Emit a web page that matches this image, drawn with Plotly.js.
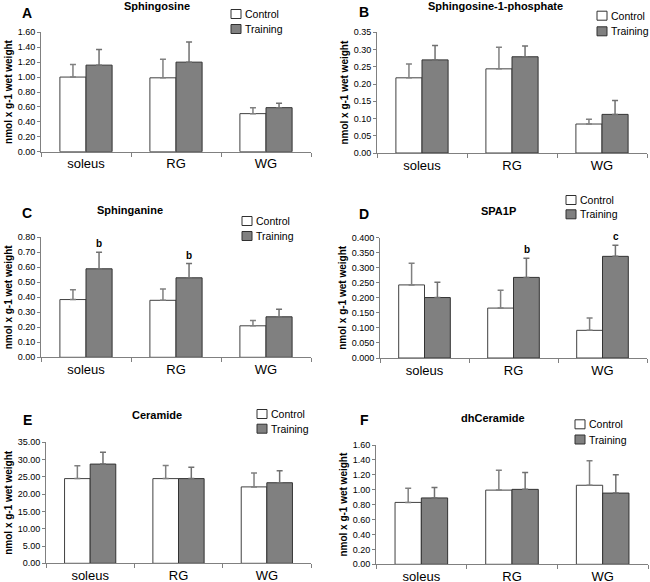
<!DOCTYPE html>
<html>
<head>
<meta charset="utf-8">
<script src="https://cdn.plot.ly/plotly-3.0.1.min.js"></script>
<style>html,body{margin:0;padding:0;background:#fff;}#chart{width:650px;height:582px;}</style>
</head>
<body>
<div id="chart"></div>
<script>
// ---- data ----
const categories = ['soleus', 'RG', 'WG'];
const seriesNames = ['Control', 'Training'];

const panelLetters = ['A', 'B', 'C', 'D', 'E', 'F'];
const panelTitles = ['Sphingosine', 'Sphingosine-1-phosphate', 'Sphinganine', 'SPA1P', 'Ceramide', 'dhCeramide'];

const sphingosineControl = [1.00, 0.99, 0.51];
const sphingosineControlErr = [0.17, 0.25, 0.08];
const sphingosineTraining = [1.16, 1.20, 0.59];
const sphingosineTrainingErr = [0.21, 0.27, 0.06];

const s1pControl = [0.218, 0.244, 0.084];
const s1pControlErr = [0.040, 0.063, 0.014];
const s1pTraining = [0.270, 0.279, 0.112];
const s1pTrainingErr = [0.042, 0.031, 0.040];

const sphinganineControl = [0.385, 0.380, 0.210];
const sphinganineControlErr = [0.065, 0.075, 0.035];
const sphinganineTraining = [0.590, 0.530, 0.270];
const sphinganineTrainingErr = [0.110, 0.095, 0.050];
const sphinganineSig = ['b', 'b', ''];

const spa1pControl = [0.243, 0.166, 0.092];
const spa1pControlErr = [0.072, 0.059, 0.041];
const spa1pTraining = [0.201, 0.268, 0.338];
const spa1pTrainingErr = [0.051, 0.064, 0.037];
const spa1pSig = ['', 'b', 'c'];

const ceramideControl = [24.5, 24.5, 22.1];
const ceramideControlErr = [3.7, 3.8, 4.0];
const ceramideTraining = [28.7, 24.5, 23.3];
const ceramideTrainingErr = [3.4, 3.3, 3.5];

const dhCeramideControl = [0.830, 0.995, 1.060];
const dhCeramideControlErr = [0.190, 0.265, 0.330];
const dhCeramideTraining = [0.890, 1.005, 0.955];
const dhCeramideTrainingErr = [0.140, 0.225, 0.245];

// ---- panel assembly ----
const panels = [
  {ctrl: sphingosineControl, ctrlErr: sphingosineControlErr, trn: sphingosineTraining, trnErr: sphingosineTrainingErr, sig: null,
   yMax: 1.6, dtick: 0.2, fmt: '.2f'},
  {ctrl: s1pControl, ctrlErr: s1pControlErr, trn: s1pTraining, trnErr: s1pTrainingErr, sig: null,
   yMax: 0.35, dtick: 0.05, fmt: '.2f'},
  {ctrl: sphinganineControl, ctrlErr: sphinganineControlErr, trn: sphinganineTraining, trnErr: sphinganineTrainingErr, sig: sphinganineSig,
   yMax: 0.8, dtick: 0.1, fmt: '.2f'},
  {ctrl: spa1pControl, ctrlErr: spa1pControlErr, trn: spa1pTraining, trnErr: spa1pTrainingErr, sig: spa1pSig,
   yMax: 0.4, dtick: 0.05, fmt: '.3f'},
  {ctrl: ceramideControl, ctrlErr: ceramideControlErr, trn: ceramideTraining, trnErr: ceramideTrainingErr, sig: null,
   yMax: 35, dtick: 5, fmt: '.2f'},
  {ctrl: dhCeramideControl, ctrlErr: dhCeramideControlErr, trn: dhCeramideTraining, trnErr: dhCeramideTrainingErr, sig: null,
   yMax: 1.6, dtick: 0.2, fmt: '.2f'}
];

// ---- layout geometry (pixels) ----
const W = 650, H = 582;
const plotBoxes = [ // [left, right, top, bottom]
  [41, 311, 32.3, 151.7],
  [377, 647, 32.3, 153],
  [41, 311, 237.3, 357.3],
  [380, 647, 237.7, 358],
  [46, 311, 442.3, 563.3],
  [376, 648, 445, 564.3]
];
// legend key: [swatch left x, first row centre y, second row centre y]
const legendPos = [[231, 14, 29], [597, 15.7, 31.3], [242, 221, 236], [566, 200, 214.3], [257, 414, 428.7], [575, 424.3, 439.5]];
const titlePos = [[157, 6], [495, 6], [130, 210], [498, 211], [157, 415], [493, 418]];
const letterPos = [[27, 13], [364, 12], [27, 213], [364, 214], [27, 420], [364, 420]];

const FONT = 'Liberation Sans, Arial, sans-serif';
const swatchFill = ['#ffffff', '#808080'];
const swatchLine = ['#303030', '#303030'];
const traces = [];
const layout = {
  width: W, height: H,
  margin: {l: 0, r: 0, t: 0, b: 0},
  paper_bgcolor: '#ffffff', plot_bgcolor: '#ffffff',
  barmode: 'group', bargap: 0.42, bargroupgap: 0,
  font: {family: FONT, color: '#000000'},
  annotations: [], shapes: [],
  showlegend: false
};

panels.forEach((p, i) => {
  const k = i + 1;
  const xa = 'x' + (k === 1 ? '' : k), ya = 'y' + (k === 1 ? '' : k);
  const box = plotBoxes[i];
  traces.push({
    type: 'bar', name: seriesNames[0], x: categories, y: p.ctrl, xaxis: xa, yaxis: ya,
    marker: {color: '#ffffff', line: {color: '#404040', width: 1}},
    error_y: {type: 'data', symmetric: false, array: p.ctrlErr, arrayminus: [0, 0, 0], color: '#808080', thickness: 1.5, width: 3},
    hoverinfo: 'y'
  });
  traces.push({
    type: 'bar', name: seriesNames[1], x: categories, y: p.trn, xaxis: xa, yaxis: ya,
    marker: {color: '#808080', line: {color: '#333333', width: 1}},
    error_y: {type: 'data', symmetric: false, array: p.trnErr, arrayminus: [0, 0, 0], color: '#707070', thickness: 1.5, width: 3},
    hoverinfo: 'y'
  });
  layout['xaxis' + (k === 1 ? '' : k)] = {
    type: 'category', domain: [box[0] / W, box[1] / W], anchor: ya,
    range: [-0.5, 2.5], tickson: 'boundaries', ticks: 'outside', ticklen: 4, tickcolor: '#808080', tickwidth: 1,
    showline: true, linecolor: '#808080', linewidth: 1, showgrid: false, zeroline: false,
    tickfont: {family: FONT, size: 13, color: '#000000'}, fixedrange: true
  };
  layout['yaxis' + (k === 1 ? '' : k)] = {
    domain: [1 - box[3] / H, 1 - box[2] / H], anchor: xa,
    range: [0, p.yMax], dtick: p.dtick, tick0: 0, tickformat: p.fmt,
    ticks: 'outside', ticklen: 3, tickcolor: '#808080', tickwidth: 1,
    showline: true, linecolor: '#808080', linewidth: 1, showgrid: false, zeroline: false,
    tickfont: {family: FONT, size: 9, color: '#000000'},
    title: {text: 'nmol x g-1 wet weight', font: {family: FONT, size: 10, color: '#000000', weight: 'bold'}, standoff: 3},
    fixedrange: true
  };
  // legend key (swatch + label) for this panel
  const lp = legendPos[i];
  seriesNames.forEach((nm, s) => {
    const cy = lp[1 + s];
    layout.shapes.push({
      type: 'rect', xref: 'paper', yref: 'paper',
      x0: lp[0] / W, x1: (lp[0] + 10) / W, y0: 1 - (cy + 4.5) / H, y1: 1 - (cy - 4.5) / H,
      fillcolor: swatchFill[s], line: {color: swatchLine[s], width: 1}
    });
    layout.annotations.push({
      xref: 'paper', yref: 'paper', x: (lp[0] + 12) / W, y: 1 - cy / H,
      xanchor: 'left', yanchor: 'middle', showarrow: false,
      text: nm, font: {family: FONT, size: 10.5, color: '#000000'}
    });
  });
  layout.annotations.push({
    xref: 'paper', yref: 'paper', x: titlePos[i][0] / W, y: 1 - titlePos[i][1] / H,
    xanchor: 'center', yanchor: 'middle', showarrow: false,
    text: '<b>' + panelTitles[i] + '</b>', font: {family: FONT, size: 11, color: '#000000'}
  });
  layout.annotations.push({
    xref: 'paper', yref: 'paper', x: letterPos[i][0] / W, y: 1 - letterPos[i][1] / H,
    xanchor: 'center', yanchor: 'middle', showarrow: false,
    text: '<b>' + panelLetters[i] + '</b>', font: {family: FONT, size: 14, color: '#000000'}
  });
  if (p.sig) {
    p.sig.forEach((s, j) => {
      if (!s) return;
      layout.annotations.push({
        xref: xa, yref: ya, x: j, y: p.trn[j] + p.trnErr[j],
        xanchor: 'center', yanchor: 'bottom', xshift: 13, yshift: 1, showarrow: false,
        text: '<b>' + s + '</b>', font: {family: FONT, size: 10, color: '#000000'}
      });
    });
  }
});

Plotly.newPlot('chart', traces, layout, {displayModeBar: false, staticPlot: true});
</script>
</body>
</html>
